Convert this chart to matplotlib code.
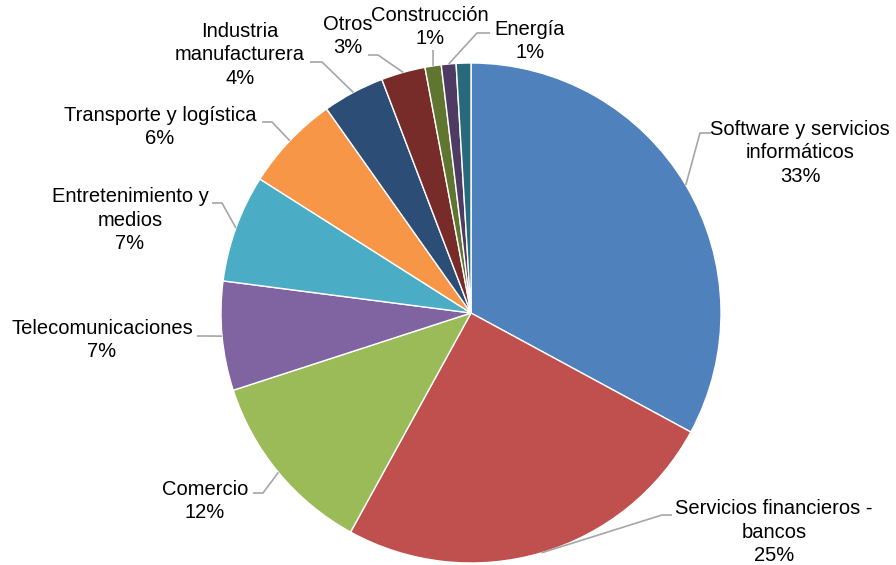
import numpy as np
import matplotlib
matplotlib.use("Agg")
import matplotlib.pyplot as plt

plt.rcParams['font.family'] = ['Liberation Sans', 'DejaVu Sans']

# Sectores (en el sentido de las agujas del reloj desde arriba)
sectores = ["Software y servicios\ninformáticos",
            "Servicios financieros -\nbancos",
            "Comercio",
            "Telecomunicaciones",
            "Entretenimiento y\nmedios",
            "Transporte y logística",
            "Industria\nmanufacturera",
            "Otros",
            "Construcción",
            "Energía",
            None]
porcentajes = [32.9, 25.1, 12.0, 7.05, 6.95, 6.2, 4.0, 2.85, 1.05, 0.95, 0.95]
colores = ["#4F81BD", "#C0504D", "#9BBB59", "#8064A2", "#4BACC6", "#F79646",
           "#2C4D75", "#772C2A", "#5F7530", "#4D3B62", "#276A7C"]

W, H = 896, 565
centro = (471, H - 313)
radio = 250

# posición del texto (px desde arriba), punto de enganche y codo de la guía
pos_texto = [(800, 153), (774, 532), (205, 501), (102, 340), (130, 220),
             (160, 127), (240, 55), (348, 36), (430, 27), (530, 41)]
enganche = [(711, 133), (672, 515), (253, 493), (197, 336), (212, 203),
            (262, 122), (310, 62), (368, 55), (433, 50), (490, 33)]
codo = [(700, 133), (662, 515), (263, 493), (207, 336), (222, 203),
        (272, 122), (322, 62), (378, 55), (433, 50), (477, 33)]

fig = plt.figure(figsize=(W / 100, H / 100), dpi=100)
ax = fig.add_axes([0, 0, 1, 1])

cunas, _ = ax.pie(porcentajes, colors=colores, startangle=90, counterclock=False,
                  center=centro, radius=radio, frame=True,
                  wedgeprops=dict(edgecolor='white', linewidth=1))
ax.set_xlim(0, W)
ax.set_ylim(0, H)
ax.set_aspect('equal')
ax.axis('off')

for i, nombre in enumerate(sectores):
    if nombre is None:
        continue
    c = cunas[i]
    ang = np.deg2rad((c.theta1 + c.theta2) / 2)
    bx = centro[0] + radio * np.cos(ang)
    by = centro[1] + radio * np.sin(ang)
    ex, ey = codo[i]
    ax_, ay_ = enganche[i]
    ax.plot([bx, ex, ax_], [by, H - ey, H - ay_], color="#A6A6A6", lw=1.2,
            solid_capstyle='butt', zorder=1)
    tx, ty = pos_texto[i]
    ax.text(tx, H - ty, f"{nombre}\n{porcentajes[i]:.0f}%", ha='center', va='center',
            fontsize=14.5, linespacing=1.28, color='black')

fig.savefig("out.png", dpi=100, facecolor='white')
